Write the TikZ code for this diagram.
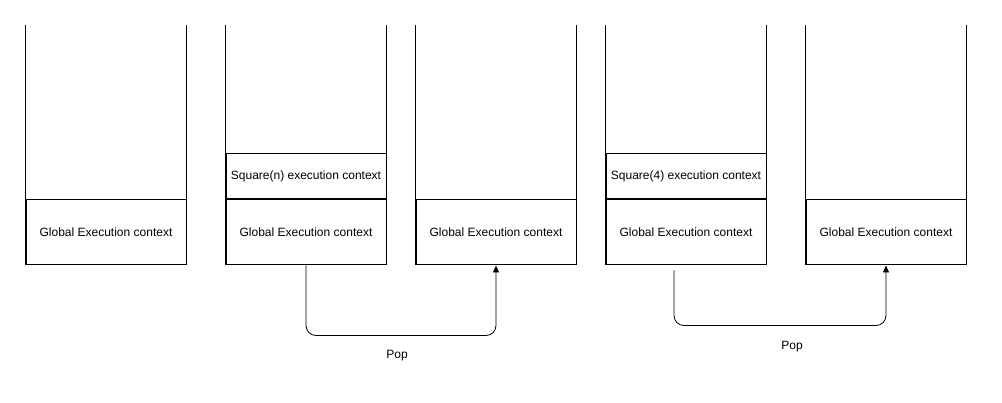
\documentclass[tikz,border=0pt]{standalone}
\usepackage{fontspec}
\setmainfont{Liberation Sans}
\usetikzlibrary{positioning, arrows.meta}

\tikzset{
  frame/.style={rectangle, draw, line width=1pt, minimum width=160pt, inner sep=0pt, font=\fontsize{12}{14}\selectfont},
  global/.style={frame, minimum height=65pt},
  local/.style={frame, minimum height=45pt},
  wall/.style={line width=1pt},
  pop/.style={-{Triangle[length=7pt,width=6pt]}, line width=0.8pt, rounded corners=10pt}
}

\begin{document}
\begin{tikzpicture}[x=1pt, y=1pt]

\useasboundingbox (0,0) rectangle (1002,402);

\node[global] (g1) at (106,169.5) {Global Execution context};
\draw[wall] (g1.south west) -- ++(0,240);
\draw[wall] (g1.south east) -- ++(0,240);

\node[global] (g2) at (306,169.5) {Global Execution context};
\node[local, above = 0pt of g2] (sqn) {Square(n) execution context};
\draw[wall] (g2.south west) -- ++(0,240);
\draw[wall] (g2.south east) -- ++(0,240);

\node[global] (g3) at (496,169.5) {Global Execution context};
\draw[wall] (g3.south west) -- ++(0,240);
\draw[wall] (g3.south east) -- ++(0,240);

\node[global] (g4) at (686,169.5) {Global Execution context};
\node[local, above = 0pt of g4] (sq4) {Square(4) execution context};
\draw[wall] (g4.south west) -- ++(0,240);
\draw[wall] (g4.south east) -- ++(0,240);

\node[global] (g5) at (886,169.5) {Global Execution context};
\draw[wall] (g5.south west) -- ++(0,240);
\draw[wall] (g5.south east) -- ++(0,240);

\draw[pop] (g2.south) -- ++(0,-70) -| (g3.south);
\node[font=\fontsize{12}{14}\selectfont] (pop1) at (397,46) {Pop};

\draw[pop] ([shift={(-12,-5)}]g4.south) -- ++(0,-55) -| (g5.south);
\node[font=\fontsize{12}{14}\selectfont] (pop2) at (792,55) {Pop};

\end{tikzpicture}
\end{document}
